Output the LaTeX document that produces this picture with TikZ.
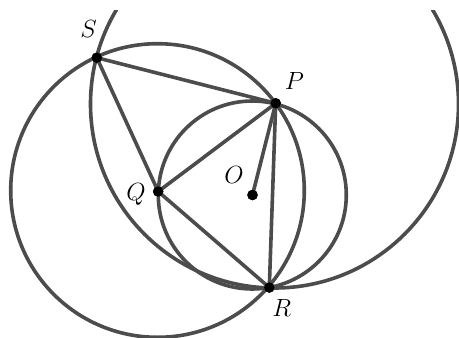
\documentclass[tikz,border=0pt]{standalone}
\begin{document}
\begin{tikzpicture}[x=1pt,y=-1pt,
  geo/.style={draw=black!70, line width=3.6pt, line join=round, line cap=round},
  dot/.style={circle, fill=black, inner sep=0pt, minimum size=10.5pt},
  lbl/.style={inner sep=0pt, font=\fontsize{29}{33}\selectfont}]
\useasboundingbox (0,0) rectangle (459,338);
% points
\node[dot] (S) at (96.8,57.7) {};
\node[dot] (P) at (275.7,103.3) {};
\node[dot] (Q) at (158.2,191.5) {};
\node[dot] (O) at (252.5,195) {};
\node[dot] (R) at (269.3,287.5) {};
% circles
\begin{scope}
\clip (0,10) rectangle (459,338);
\draw[geo] (252.3,195) circle[radius=94];
\draw[geo] (157.5,190.5) circle[radius=146.8];
\draw[geo] (274.5,104) circle[radius=184];
\end{scope}
% segments
\draw[geo] (S.center) -- (P.center);
\draw[geo] (S.center) -- (Q.center);
\draw[geo] (Q.center) -- (P.center);
\draw[geo] (Q.center) -- (R.center);
\draw[geo] (P.center) -- (R.center);
\draw[geo] (P.center) -- (O.center);
% dots on top
\foreach \p in {S,P,Q,O,R} \fill (\p.center) circle[radius=5.2];
% labels
\node[lbl] (lS) at (88.5,29) {$S$};
\node[lbl] (lP) at (294.5,80.5) {$P$};
\node[lbl] (lQ) at (136,194) {$Q$};
\node[lbl] (lO) at (234,174.5) {$O$};
\node[lbl] (lR) at (281.7,308) {$R$};
\end{tikzpicture}
\end{document}
